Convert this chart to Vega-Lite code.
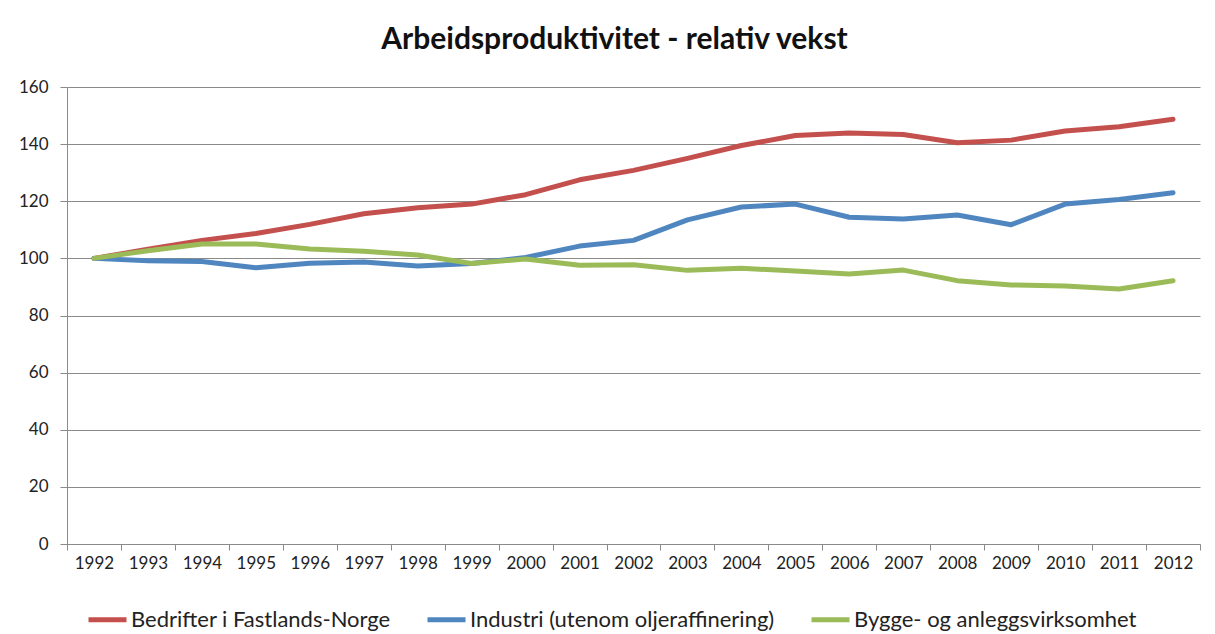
{
  "$schema": "https://vega.github.io/schema/vega-lite/v6.json",
  "width": 1133,
  "height": 457,
  "autosize": {"type": "none"},
  "padding": {"left": 67, "top": 87, "right": 15, "bottom": 90},
  "background": "white",
  "title": {
    "text": "Arbeidsproduktivitet - relativ vekst",
    "font": "Lato",
    "fontSize": 30,
    "fontWeight": "bold",
    "color": "#111111",
    "anchor": "middle",
    "baseline": "alphabetic",
    "offset": 32,
    "dx": -19,
    "dy": 33
  },
  "config": {
    "view": {"stroke": null},
    "font": "Lato",
    "axis": {
      "labelFont": "Lato",
      "labelFontSize": 17,
      "labelColor": "#222222",
      "domainColor": "#8a8a8a",
      "tickColor": "#8a8a8a",
      "gridColor": "#8a8a8a",
      "title": null
    }
  },
  "data": {
    "values": [
      {"year": "1992", "serie": "Bedrifter i Fastlands-Norge", "value": 100},
      {"year": "1993", "serie": "Bedrifter i Fastlands-Norge", "value": 103.2},
      {"year": "1994", "serie": "Bedrifter i Fastlands-Norge", "value": 106.3},
      {"year": "1995", "serie": "Bedrifter i Fastlands-Norge", "value": 108.7},
      {"year": "1996", "serie": "Bedrifter i Fastlands-Norge", "value": 111.9},
      {"year": "1997", "serie": "Bedrifter i Fastlands-Norge", "value": 115.6},
      {"year": "1998", "serie": "Bedrifter i Fastlands-Norge", "value": 117.7},
      {"year": "1999", "serie": "Bedrifter i Fastlands-Norge", "value": 119},
      {"year": "2000", "serie": "Bedrifter i Fastlands-Norge", "value": 122.3},
      {"year": "2001", "serie": "Bedrifter i Fastlands-Norge", "value": 127.5},
      {"year": "2002", "serie": "Bedrifter i Fastlands-Norge", "value": 130.8},
      {"year": "2003", "serie": "Bedrifter i Fastlands-Norge", "value": 135},
      {"year": "2004", "serie": "Bedrifter i Fastlands-Norge", "value": 139.5},
      {"year": "2005", "serie": "Bedrifter i Fastlands-Norge", "value": 143},
      {"year": "2006", "serie": "Bedrifter i Fastlands-Norge", "value": 143.9},
      {"year": "2007", "serie": "Bedrifter i Fastlands-Norge", "value": 143.4},
      {"year": "2008", "serie": "Bedrifter i Fastlands-Norge", "value": 140.5},
      {"year": "2009", "serie": "Bedrifter i Fastlands-Norge", "value": 141.4},
      {"year": "2010", "serie": "Bedrifter i Fastlands-Norge", "value": 144.6},
      {"year": "2011", "serie": "Bedrifter i Fastlands-Norge", "value": 146.1},
      {"year": "2012", "serie": "Bedrifter i Fastlands-Norge", "value": 148.7},
      {"year": "1992", "serie": "Industri (utenom oljeraffinering)", "value": 100},
      {"year": "1993", "serie": "Industri (utenom oljeraffinering)", "value": 99.2},
      {"year": "1994", "serie": "Industri (utenom oljeraffinering)", "value": 98.9},
      {"year": "1995", "serie": "Industri (utenom oljeraffinering)", "value": 96.7},
      {"year": "1996", "serie": "Industri (utenom oljeraffinering)", "value": 98.3},
      {"year": "1997", "serie": "Industri (utenom oljeraffinering)", "value": 98.7},
      {"year": "1998", "serie": "Industri (utenom oljeraffinering)", "value": 97.3},
      {"year": "1999", "serie": "Industri (utenom oljeraffinering)", "value": 98.2},
      {"year": "2000", "serie": "Industri (utenom oljeraffinering)", "value": 100.3},
      {"year": "2001", "serie": "Industri (utenom oljeraffinering)", "value": 104.3},
      {"year": "2002", "serie": "Industri (utenom oljeraffinering)", "value": 106.3},
      {"year": "2003", "serie": "Industri (utenom oljeraffinering)", "value": 113.5},
      {"year": "2004", "serie": "Industri (utenom oljeraffinering)", "value": 118},
      {"year": "2005", "serie": "Industri (utenom oljeraffinering)", "value": 119},
      {"year": "2006", "serie": "Industri (utenom oljeraffinering)", "value": 114.4},
      {"year": "2007", "serie": "Industri (utenom oljeraffinering)", "value": 113.8},
      {"year": "2008", "serie": "Industri (utenom oljeraffinering)", "value": 115.2},
      {"year": "2009", "serie": "Industri (utenom oljeraffinering)", "value": 111.8},
      {"year": "2010", "serie": "Industri (utenom oljeraffinering)", "value": 119},
      {"year": "2011", "serie": "Industri (utenom oljeraffinering)", "value": 120.6},
      {"year": "2012", "serie": "Industri (utenom oljeraffinering)", "value": 123},
      {"year": "1992", "serie": "Bygge- og anleggsvirksomhet", "value": 100},
      {"year": "1993", "serie": "Bygge- og anleggsvirksomhet", "value": 102.7},
      {"year": "1994", "serie": "Bygge- og anleggsvirksomhet", "value": 105},
      {"year": "1995", "serie": "Bygge- og anleggsvirksomhet", "value": 105},
      {"year": "1996", "serie": "Bygge- og anleggsvirksomhet", "value": 103.3},
      {"year": "1997", "serie": "Bygge- og anleggsvirksomhet", "value": 102.5},
      {"year": "1998", "serie": "Bygge- og anleggsvirksomhet", "value": 101.2},
      {"year": "1999", "serie": "Bygge- og anleggsvirksomhet", "value": 98.2},
      {"year": "2000", "serie": "Bygge- og anleggsvirksomhet", "value": 99.8},
      {"year": "2001", "serie": "Bygge- og anleggsvirksomhet", "value": 97.6},
      {"year": "2002", "serie": "Bygge- og anleggsvirksomhet", "value": 97.8},
      {"year": "2003", "serie": "Bygge- og anleggsvirksomhet", "value": 95.8},
      {"year": "2004", "serie": "Bygge- og anleggsvirksomhet", "value": 96.5},
      {"year": "2005", "serie": "Bygge- og anleggsvirksomhet", "value": 95.6},
      {"year": "2006", "serie": "Bygge- og anleggsvirksomhet", "value": 94.5},
      {"year": "2007", "serie": "Bygge- og anleggsvirksomhet", "value": 95.9},
      {"year": "2008", "serie": "Bygge- og anleggsvirksomhet", "value": 92.2},
      {"year": "2009", "serie": "Bygge- og anleggsvirksomhet", "value": 90.7},
      {"year": "2010", "serie": "Bygge- og anleggsvirksomhet", "value": 90.3},
      {"year": "2011", "serie": "Bygge- og anleggsvirksomhet", "value": 89.3},
      {"year": "2012", "serie": "Bygge- og anleggsvirksomhet", "value": 92.2}
    ]
  },
  "mark": {"type": "line", "strokeWidth": 5, "strokeJoin": "round", "strokeCap": "round"},
  "encoding": {
    "x": {
      "field": "year",
      "type": "ordinal",
      "scale": {"paddingInner": 0, "paddingOuter": 0},
      "axis": {
        "labelAngle": 0,
        "tickBand": "extent",
        "tickSize": 6,
        "labelPadding": 5,
        "grid": false
      }
    },
    "y": {
      "field": "value",
      "type": "quantitative",
      "scale": {"domain": [0, 160], "nice": false},
      "axis": {
        "values": [0, 20, 40, 60, 80, 100, 120, 140, 160],
        "grid": true,
        "tickSize": 7,
        "labelPadding": 12
      }
    },
    "color": {
      "field": "serie",
      "type": "nominal",
      "scale": {
        "domain": ["Bedrifter i Fastlands-Norge", "Industri (utenom oljeraffinering)", "Bygge- og anleggsvirksomhet"],
        "range": ["#C4504D", "#4F86C0", "#9BBB59"]
      },
      "legend": {
        "title": null,
        "orient": "none",
        "direction": "horizontal",
        "legendX": 19,
        "legendY": 511,
        "symbolType": "stroke",
        "symbolStrokeWidth": 5,
        "symbolSize": 1444,
        "labelFont": "Lato",
        "labelFontSize": 22,
        "labelColor": "#222222",
        "labelOffset": 2,
        "labelLimit": 400,
        "columnPadding": 26
      }
    }
  }
}
